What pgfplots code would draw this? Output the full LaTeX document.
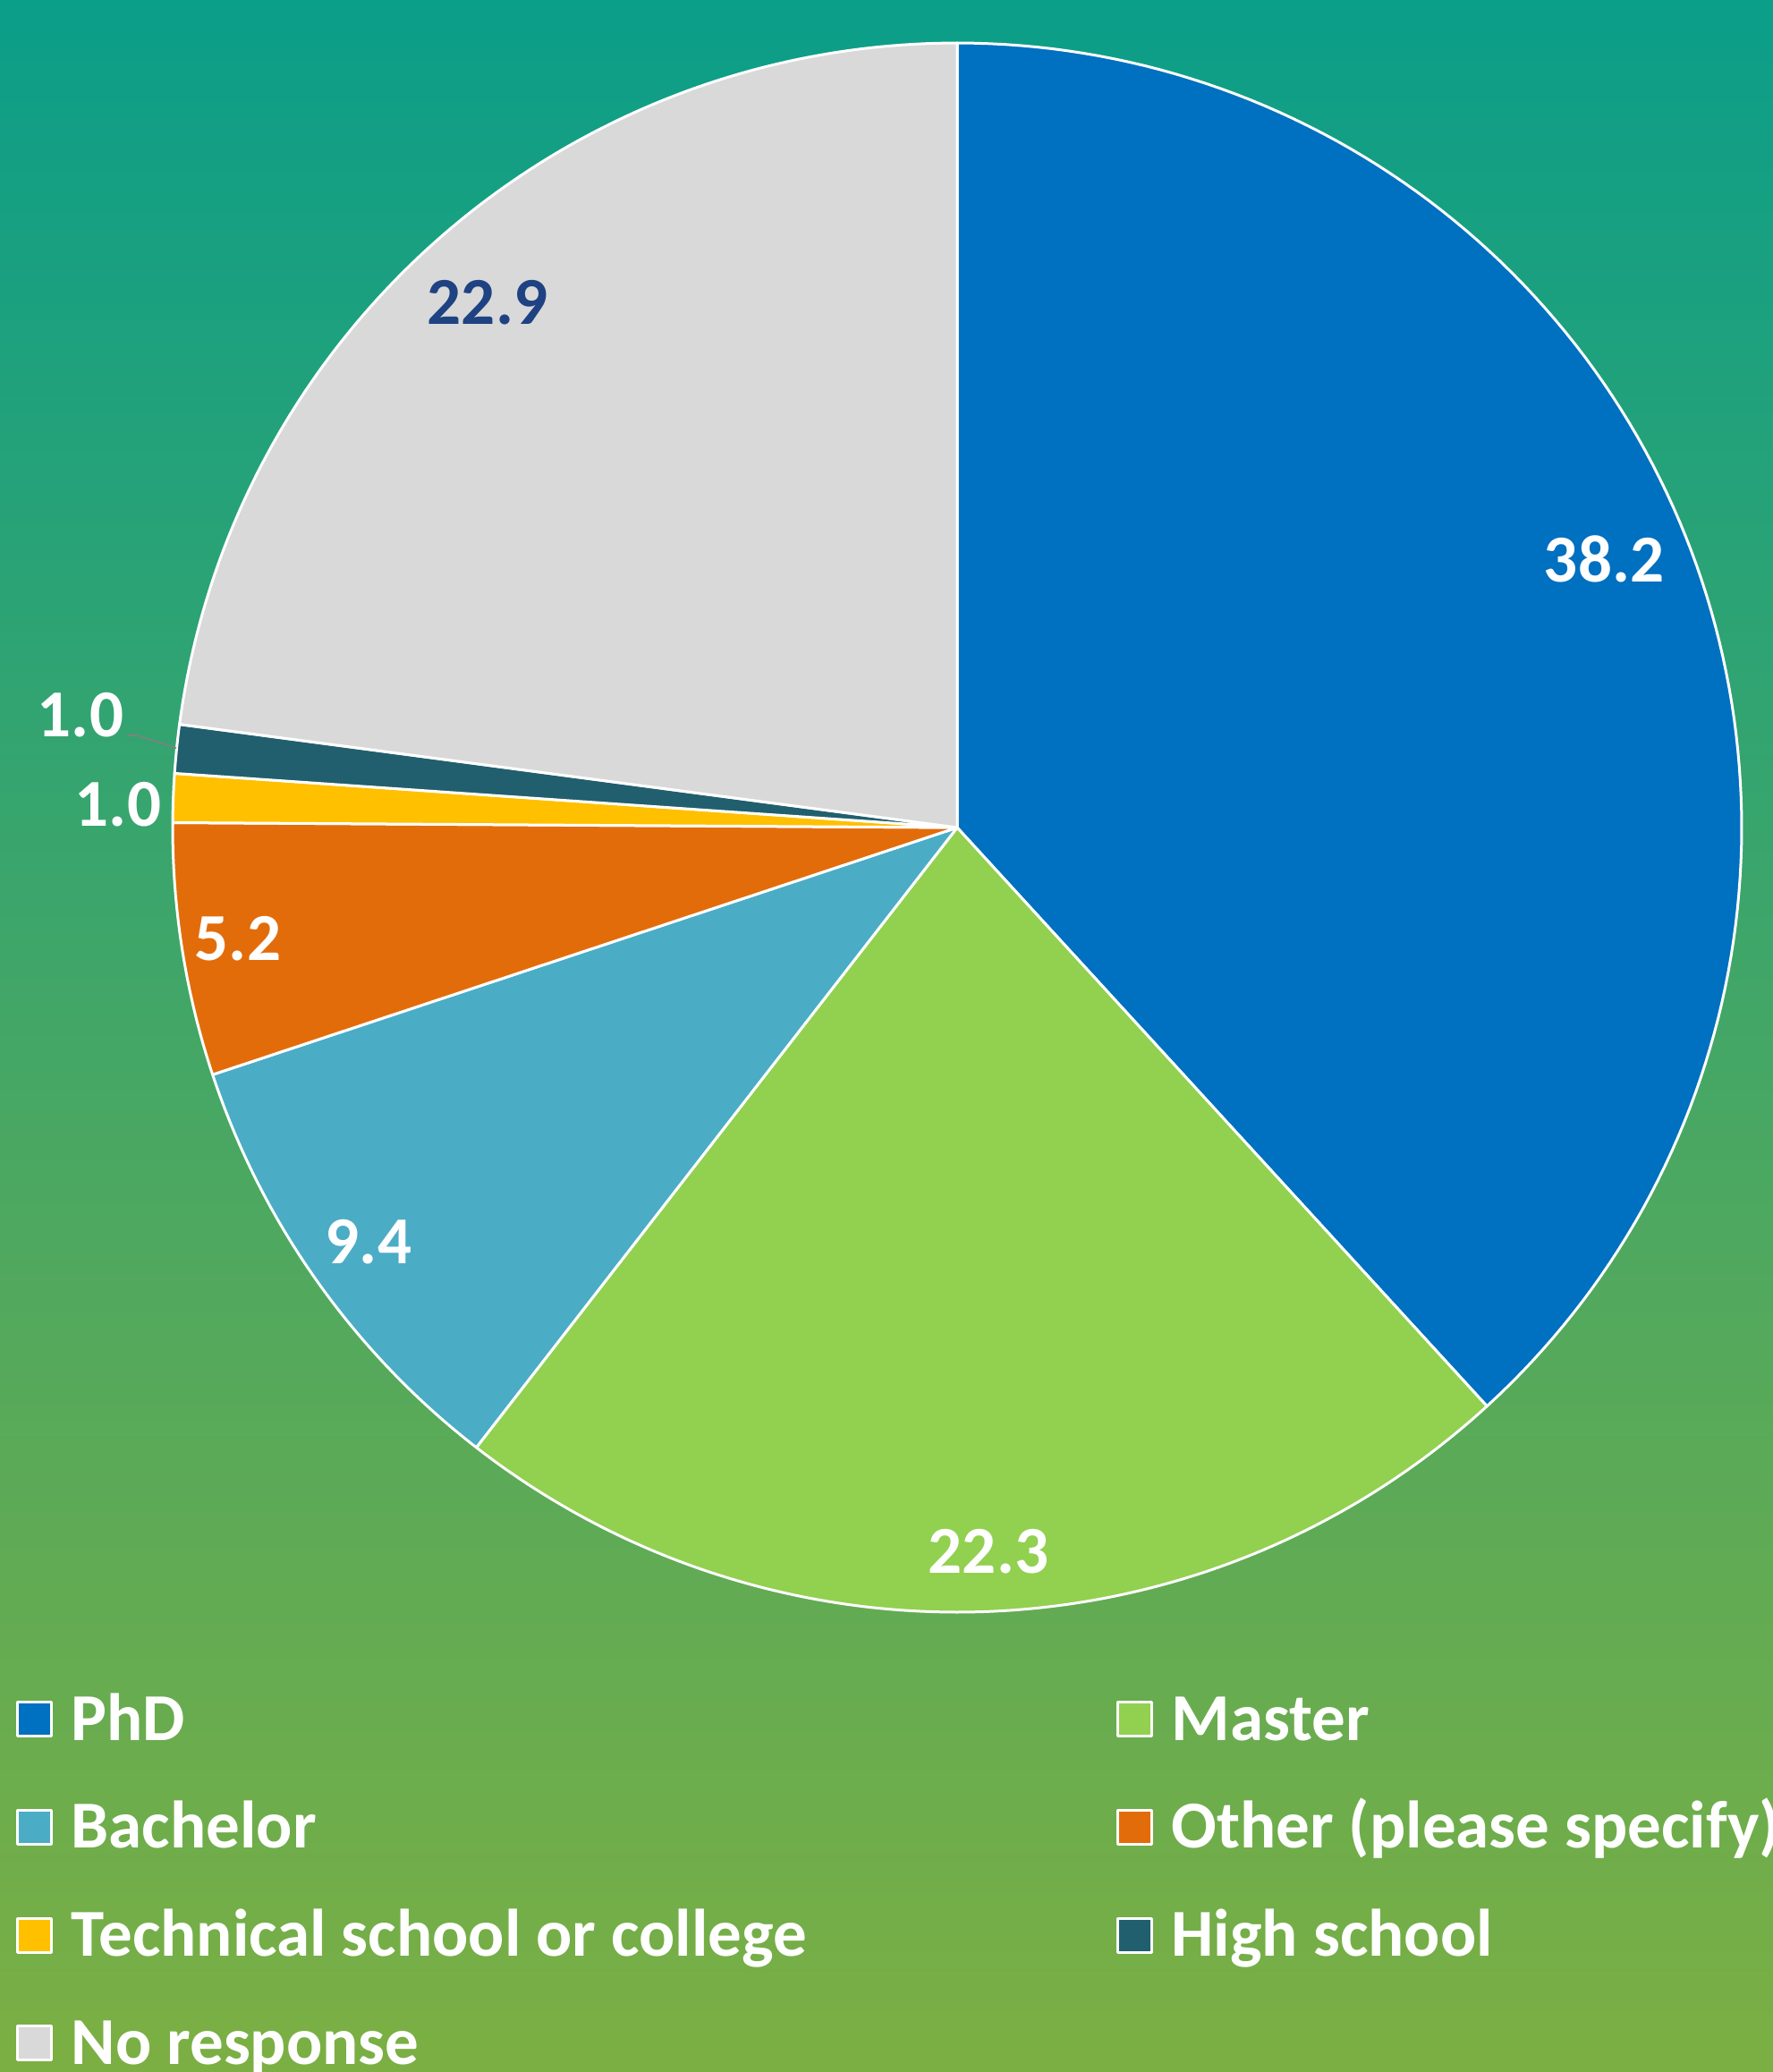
\documentclass[border=0pt]{standalone}
\usepackage{pgfplots}
\pgfplotsset{compat=1.18}
\usepackage{pgfplotstable}
\usepackage{fontspec}
\setmainfont{Carlito}
\definecolor{cPhD}{HTML}{0070C0}
\definecolor{cMaster}{HTML}{92D050}
\definecolor{cBach}{HTML}{4BACC6}
\definecolor{cOther}{HTML}{E36C0A}
\definecolor{cTech}{HTML}{FFC000}
\definecolor{cHigh}{HTML}{215F6E}
\definecolor{cNo}{HTML}{D9D9D9}
\definecolor{bgTop}{HTML}{0B9E89}
\definecolor{bgMid}{HTML}{3CA66B}
\definecolor{bgBot}{HTML}{7CAF43}
\definecolor{lblDark}{HTML}{1F4282}
\newcommand\lbl{\fontsize{18.75}{22}\selectfont\bfseries}

\pgfplotstableread{
name value col
PhD 38.2 cPhD
Master 22.3 cMaster
Bachelor 9.4 cBach
Other 5.2 cOther
Technical 1.0 cTech
HighSchool 1.0 cHigh
NoResponse 22.9 cNo
}\pietable

\begin{document}
\begin{tikzpicture}
\begin{axis}[name=ax, hide axis, scale only axis, width=495.5pt, height=579pt,
  xmin=0, xmax=1982, ymin=0, ymax=2316, y dir=reverse, clip=false,
  legend columns=2,
  legend image code/.code={\draw[#1] (0.375pt,1.125pt) rectangle (9.875pt,10.625pt);},
  legend style={at={(axis cs:18,1889)}, anchor=north west, draw=none, fill=none,
    inner sep=0pt, outer sep=0pt, font=\lbl, text=white, row sep=11.2pt,
    nodes={inner sep=0pt, text height=14pt, text depth=5pt},
    cells={anchor=base west},
    /tikz/every odd column/.append style={column sep=5.2pt},
    /tikz/every even column/.append style={column sep=0pt}},
]
\fill[top color=bgTop, middle color=bgMid, bottom color=bgBot] (axis cs:0,0) rectangle (axis cs:1982,2316);
\def\cum{0}
\pgfplotsforeachungrouped \i in {0,...,6}{%
  \pgfplotstablegetelem{\i}{value}\of\pietable \let\val\pgfplotsretval
  \pgfplotstablegetelem{\i}{col}\of\pietable \let\col\pgfplotsretval
  \pgfmathsetmacro\aend{90-3.6*\cum}%
  \pgfmathsetmacro\cum{\cum+\val}%
  \pgfmathsetmacro\astart{90-3.6*\cum}%
  \edef\doplot{\noexpand\addplot[fill=\col, draw=white, line width=0.75pt, line join=round,
     domain=\astart:\aend, samples=120, variable=\noexpand\t]
     ({1070+877*cos(\noexpand\t)},{925-877*sin(\noexpand\t)}) -- (axis cs:1070,925) -- cycle;}%
  \doplot
}
\legend{\makebox[292pt][l]{PhD}, Master, Bachelor, Other (please specify),
  Technical school or college, High school, No response}
\draw[color=gray, line width=0.4pt] (axis cs:142,822) -- (axis cs:153,822) -- (axis cs:197,836);
\node[font=\lbl, text=white, inner sep=0pt] at (axis cs:1793,625) {38.2};
\node[font=\lbl, text=white, inner sep=0pt] at (axis cs:1105,1734) {22.3};
\node[font=\lbl, text=white, inner sep=0pt] at (axis cs:412,1388) {9.4};
\node[font=\lbl, text=white, inner sep=0pt] at (axis cs:266,1049) {5.2};
\node[font=\lbl, text=white, inner sep=0pt] at (axis cs:132,899) {1.0};
\node[font=\lbl, text=white, inner sep=0pt] at (axis cs:90,799) {1.0};
\node[font=\lbl, text=lblDark, inner sep=0pt] at (axis cs:545,338) {22.9};
\end{axis}
\pgfresetboundingbox
\useasboundingbox (ax.south west) rectangle (ax.north east);
\end{tikzpicture}
\end{document}
